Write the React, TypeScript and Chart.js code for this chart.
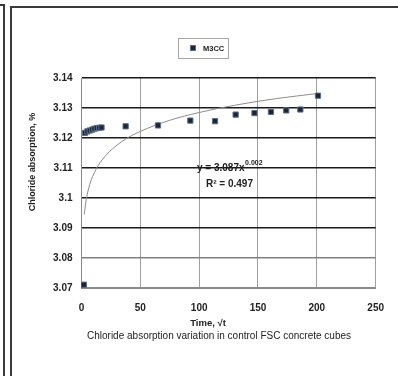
import React, { useEffect, useRef } from 'react';
import { Chart, registerables } from 'chart.js';

Chart.register(...registerables);

const seriesName = 'M3CC';
const timeSqrt = [1, 2, 3, 5, 7, 9, 11, 13, 15, 17, 37.5, 65, 92.5, 113.5, 131, 147, 161, 174, 186, 201];
const absorption = [3.0709, 3.0711, 3.1217, 3.1222, 3.1225, 3.1228, 3.1231, 3.1233, 3.1234, 3.1235, 3.1239, 3.1242, 3.1258, 3.1256, 3.1278, 3.1283, 3.1287, 3.1292, 3.1295, 3.1341];
const trendX = [2.3, 4, 7, 12, 20, 35, 50, 75, 100, 130, 165, 200];
const trendY = [3.0945, 3.0994, 3.1045, 3.1093, 3.1139, 3.119, 3.1222, 3.1259, 3.1285, 3.1309, 3.1331, 3.1348];
const yTickLabels = ['3.07', '3.08', '3.09', '3.1', '3.11', '3.12', '3.13', '3.14'];
const xTickLabels = ['0', '50', '100', '150', '200', '250'];
const xTitle = 'Time, √t';
const yTitle = 'Chloride absorption, %';
const caption = 'Chloride absorption variation in control FSC concrete cubes';
const eqBase = 'y = 3.087x';
const eqExp = '0.002';
const r2Text = 'R² = 0.497';

const FONT = "'Liberation Sans', Arial, sans-serif";

const decorPlugin = {
  id: 'decor',
  afterDraw(chart: any) {
    const ctx = chart.ctx;
    ctx.save();
    // frame lines
    ctx.strokeStyle = '#3a3a3a';
    ctx.lineWidth = 2;
    ctx.beginPath();
    ctx.moveTo(0, 5);
    ctx.lineTo(4, 5);
    ctx.lineTo(4, 376);
    ctx.moveTo(11, 376);
    ctx.lineTo(11, 7);
    ctx.lineTo(398, 7);
    ctx.stroke();

    // legend
    ctx.strokeStyle = '#a8a8a8';
    ctx.lineWidth = 1;
    ctx.strokeRect(178.5, 38.5, 50, 20);
    ctx.fillStyle = '#1c2533';
    ctx.fillRect(190.5, 45.5, 5, 5);
    ctx.strokeStyle = '#5a6f8f';
    ctx.strokeRect(190.5, 45.5, 5, 5);
    ctx.fillStyle = '#222';
    ctx.font = `bold 7.5px ${FONT}`;
    ctx.textAlign = 'left';
    ctx.textBaseline = 'middle';
    ctx.fillText(seriesName, 203, 48.5);

    // equation
    ctx.font = `bold 10px ${FONT}`;
    ctx.fillStyle = '#222';
    ctx.textBaseline = 'alphabetic';
    ctx.fillText(eqBase, 197, 171);
    const w = ctx.measureText(eqBase).width;
    ctx.font = `bold 7px ${FONT}`;
    ctx.fillText(eqExp, 197 + w + 0.5, 165);
    ctx.font = `bold 10px ${FONT}`;
    ctx.fillText(r2Text, 206, 187);

    // axis titles
    ctx.textAlign = 'center';
    ctx.textBaseline = 'middle';
    ctx.font = `bold 9.5px ${FONT}`;
    ctx.fillText(xTitle, 208, 323);
    ctx.save();
    ctx.translate(33, 162);
    ctx.rotate(-Math.PI / 2);
    ctx.font = `bold 9px ${FONT}`;
    ctx.fillText(yTitle, 0, 0);
    ctx.restore();

    // caption
    ctx.font = `10px ${FONT}`;
    ctx.fillText(caption, 219, 336);
    ctx.restore();
  },
};

export default function App() {
  const ref = useRef<HTMLCanvasElement | null>(null);
  useEffect(() => {
    if (!ref.current) return;
    const chart = new Chart(ref.current, {
      type: 'scatter',
      data: {
        datasets: [
          {
            label: seriesName,
            data: timeSqrt.map((x, i) => ({ x, y: absorption[i] })),
            pointStyle: 'rect',
            pointRadius: 3.7,
            backgroundColor: '#1c2533',
            borderColor: '#5a6f8f',
            borderWidth: 1,
            showLine: false,
          },
          {
            label: 'Trend',
            data: trendX.map((x, i) => ({ x, y: trendY[i] })),
            showLine: true,
            pointRadius: 0,
            borderColor: '#8c8c8c',
            borderWidth: 1,
            cubicInterpolationMode: 'monotone',
            fill: false,
          },
        ],
      },
      options: {
        responsive: false,
        animation: false,
        devicePixelRatio: 1,
        layout: { padding: { top: 78, right: 18, left: 0, bottom: 0 } },
        plugins: { legend: { display: false }, tooltip: { enabled: false }, title: { display: false } },
        scales: {
          x: {
            type: 'linear',
            min: 0,
            max: 250,
            ticks: {
              stepSize: 50,
              callback: (_v: any, i: number) => xTickLabels[i],
              font: { family: FONT, size: 10, weight: 'bold' },
              color: '#222',
              padding: 14,
              maxRotation: 0,
            },
            grid: { color: '#a0a0a0', lineWidth: 1, drawTicks: false },
            border: { color: '#8a8a8a', width: 1 },
            afterFit: (s: any) => {
              s.height = 88;
            },
          },
          y: {
            type: 'linear',
            min: 3.07,
            max: 3.14,
            ticks: {
              stepSize: 0.01,
              callback: (_v: any, i: number) => yTickLabels[i],
              font: { family: FONT, size: 10, weight: 'bold' },
              color: '#222',
              padding: 9,
            },
            grid: {
              color: (c: any) => (c.index === 1 ? '#808080' : c.index === 0 ? '#8a8a8a' : '#1a1a1a'),
              lineWidth: 1.5,
              drawTicks: false,
            },
            border: { color: '#8a8a8a', width: 1 },
            afterFit: (s: any) => {
              s.width = 81.5;
            },
          },
        },
      },
      plugins: [decorPlugin],
    } as any);
    return () => chart.destroy();
  }, []);
  return (
    <div style={{ position: 'absolute', left: 0, top: 0, width: 398, height: 376, background: '#fff' }}>
      <canvas ref={ref} width={398} height={376} />
    </div>
  );
}
